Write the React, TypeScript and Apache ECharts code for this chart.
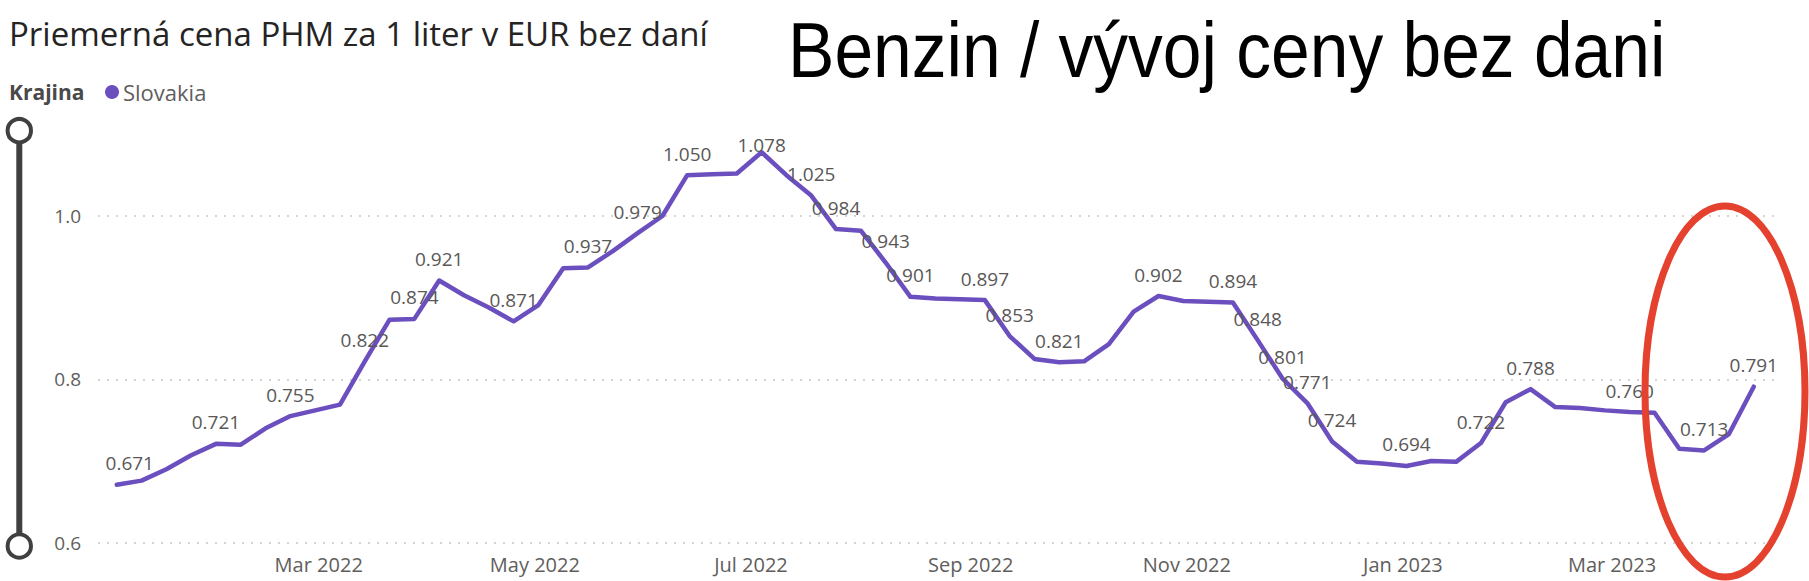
import React, { useEffect, useRef } from "react";
import * as echarts from "echarts";

const WEEKS: string[] = [
  "2022-01-03", "2022-01-10", "2022-01-17", "2022-01-24", "2022-01-31",
  "2022-02-07", "2022-02-14", "2022-02-21", "2022-02-28",
  "2022-03-07", "2022-03-14", "2022-03-21", "2022-03-28",
  "2022-04-04", "2022-04-11", "2022-04-18", "2022-04-25",
  "2022-05-02", "2022-05-09", "2022-05-16", "2022-05-23", "2022-05-30",
  "2022-06-06", "2022-06-13", "2022-06-20", "2022-06-27",
  "2022-07-04", "2022-07-11", "2022-07-18", "2022-07-25",
  "2022-08-01", "2022-08-08", "2022-08-15", "2022-08-22", "2022-08-29",
  "2022-09-05", "2022-09-12", "2022-09-19", "2022-09-26",
  "2022-10-03", "2022-10-10", "2022-10-17", "2022-10-24", "2022-10-31",
  "2022-11-07", "2022-11-14", "2022-11-21", "2022-11-28",
  "2022-12-05", "2022-12-12", "2022-12-19", "2022-12-26",
  "2023-01-02", "2023-01-09", "2023-01-16", "2023-01-23", "2023-01-30",
  "2023-02-06", "2023-02-13", "2023-02-20", "2023-02-27",
  "2023-03-06", "2023-03-13", "2023-03-20", "2023-03-27",
  "2023-04-03", "2023-04-10",
];

const PRICES: number[] = [
  0.671, 0.676, 0.690, 0.707, 0.721,
  0.720, 0.740, 0.755, 0.762,
  0.769, 0.822, 0.873, 0.874,
  0.921, 0.903, 0.888, 0.871,
  0.891, 0.936, 0.937, 0.957, 0.979,
  1.000, 1.050, 1.051, 1.052,
  1.078, 1.050, 1.025, 0.984,
  0.982, 0.943, 0.901, 0.899, 0.898,
  0.897, 0.853, 0.825, 0.821,
  0.822, 0.843, 0.883, 0.902, 0.896,
  0.895, 0.894, 0.848, 0.801,
  0.771, 0.724, 0.699, 0.697,
  0.694, 0.700, 0.699, 0.722, 0.772,
  0.788, 0.766, 0.765, 0.762,
  0.760, 0.759, 0.715, 0.713,
  0.733, 0.791,
];

const LABELED_INDEX: number[] = [
  0, 4, 7, 10, 12, 13, 16, 19, 21, 23, 26, 28, 29, 31, 32, 35, 36, 38,
  42, 45, 46, 47, 48, 49, 52, 55, 57, 61, 64, 66,
];

const Y_TICKS: number[] = [0.6, 0.8, 1.0];
const MONTH_NAMES: string[] = ["Jan", "Feb", "Mar", "Apr", "May", "Jun", "Jul", "Aug", "Sep", "Oct", "Nov", "Dec"];
const SERIES_NAME = "Slovakia";
const LEGEND_TITLE = "Krajina";
const CHART_TITLE = "Priemerná cena PHM za 1 liter v EUR bez daní";
const BIG_TITLE = "Benzin / vývoj ceny bez dani";

const FONT = "'Segoe UI', 'Open Sans', sans-serif";
const GRAY = "#605e5c";
const PURPLE = "#6b4fbf";

export default function App() {
  const ref = useRef<HTMLDivElement>(null);

  useEffect(() => {
    document.body.style.margin = "0";
    if (!ref.current) return;
    const chart = echarts.init(ref.current, null, { renderer: "svg" });
    const labeled = new Set(LABELED_INDEX);
    const firstTime = new Date(WEEKS[0] + "T00:00:00").getTime();
    const data = WEEKS.map((w, i) => ({
      value: [w + " 00:00:00", PRICES[i]],
      label: { show: labeled.has(i) },
    }));

    const option: any = {
      animation: false,
      backgroundColor: "#ffffff",
      title: {
        text: CHART_TITLE,
        left: 9,
        top: 13,
        padding: 0,
        textStyle: {
          fontFamily: FONT,
          fontSize: 33,
          fontWeight: "normal",
          color: "#252423",
          lineHeight: 40,
        },
      },
      legend: {
        data: [SERIES_NAME],
        left: 105,
        top: 81,
        padding: 0,
        icon: "circle",
        itemWidth: 14,
        itemHeight: 14,
        itemGap: 5,
        textStyle: { fontFamily: FONT, fontSize: 22, color: GRAY, lineHeight: 22, padding: [0, 0, 0, -1] },
      },
      grid: { left: 98, right: 34, top: 134.3, bottom: 38.3, containLabel: false },
      xAxis: {
        type: "time",
        min: new Date(2021, 11, 28, 17).getTime(),
        max: new Date(2023, 3, 16).getTime(),
        minInterval: 28 * 24 * 3600 * 1000,
        maxInterval: 31 * 24 * 3600 * 1000,
        axisLine: { show: false },
        axisTick: { show: false },
        splitLine: { show: false },
        axisLabel: {
          fontFamily: FONT,
          fontSize: 20,
          color: GRAY,
          margin: 12,
          hideOverlap: false,
          formatter: (val: number) => {
            const d = new Date(val);
            if (val < firstTime) return "";
            if (d.getDate() !== 1 || d.getHours() !== 0 || d.getMonth() % 2 !== 0) return "";
            return MONTH_NAMES[d.getMonth()] + " " + d.getFullYear();
          },
        },
      },
      yAxis: {
        type: "value",
        min: 0.6,
        max: 1.1,
        interval: 0.2,
        axisLine: { show: false },
        axisTick: { show: false },
        splitLine: { show: false },
        axisLabel: {
          fontFamily: FONT,
          fontSize: 19,
          color: GRAY,
          margin: 17,
          formatter: (v: number) =>
            Y_TICKS.some((t) => Math.abs(t - v) < 1e-6) ? v.toFixed(1) : "",
        },
      },
      series: [
        {
          name: SERIES_NAME,
          type: "line",
          data,
          color: PURPLE,
          symbol: "circle",
          symbolSize: 1,
          showSymbol: true,
          itemStyle: { color: PURPLE },
          lineStyle: { color: PURPLE, width: 4.5, cap: "round", join: "round" },
          label: {
            position: "top",
            distance: 11,
            fontFamily: FONT,
            fontSize: 19,
            lineHeight: 20,
            color: "#5a5857",
            formatter: (p: any) => Number(p.value[1]).toFixed(3),
          },
          labelLayout: (p: any) => {
            if (p.dataIndex === 0) return { dx: 13, hideOverlap: false };
            if (p.dataIndex === 26) return { dy: 14, hideOverlap: false };
            return { hideOverlap: false };
          },
          markLine: {
            silent: true,
            symbol: "none",
            label: { show: false },
            lineStyle: { type: [2, 7], color: "#c8c6c4", width: 1.5 },
            data: Y_TICKS.map((t) => ({ yAxis: t })),
            z: 0,
          },
        },
      ],
      graphic: [
        {
          type: "text",
          left: 9,
          top: 81,
          style: {
            text: LEGEND_TITLE,
            fontFamily: FONT,
            fontSize: 21,
            fontWeight: "bold",
            fill: "#4a4a4a",
          },
        },
        {
          type: "text",
          x: 788,
          y: 51,
          scaleX: 0.903,
          style: {
            text: BIG_TITLE,
            fontFamily: "'Liberation Sans', Arial, sans-serif",
            fontSize: 77,
            fill: "#000000",
            verticalAlign: "middle",
          },
        },
        {
          type: "line",
          shape: { x1: 19.3, y1: 140, x2: 19.3, y2: 536 },
          style: { stroke: "#404040", lineWidth: 6 },
        },
        {
          type: "circle",
          shape: { cx: 19.3, cy: 130.7, r: 11.7 },
          style: { fill: "#ffffff", stroke: "#404040", lineWidth: 4 },
        },
        {
          type: "circle",
          shape: { cx: 19.3, cy: 546, r: 11.7 },
          style: { fill: "#ffffff", stroke: "#404040", lineWidth: 4 },
        },
        {
          type: "ellipse",
          shape: { cx: 1725, cy: 391.5, rx: 80, ry: 185.5 },
          style: { fill: "none", stroke: "#e5412f", lineWidth: 7 },
          z: 100,
        },
      ],
    };

    chart.setOption(option);
    return () => chart.dispose();
  }, []);

  return <div ref={ref} style={{ width: 1809, height: 581 }} />;
}
